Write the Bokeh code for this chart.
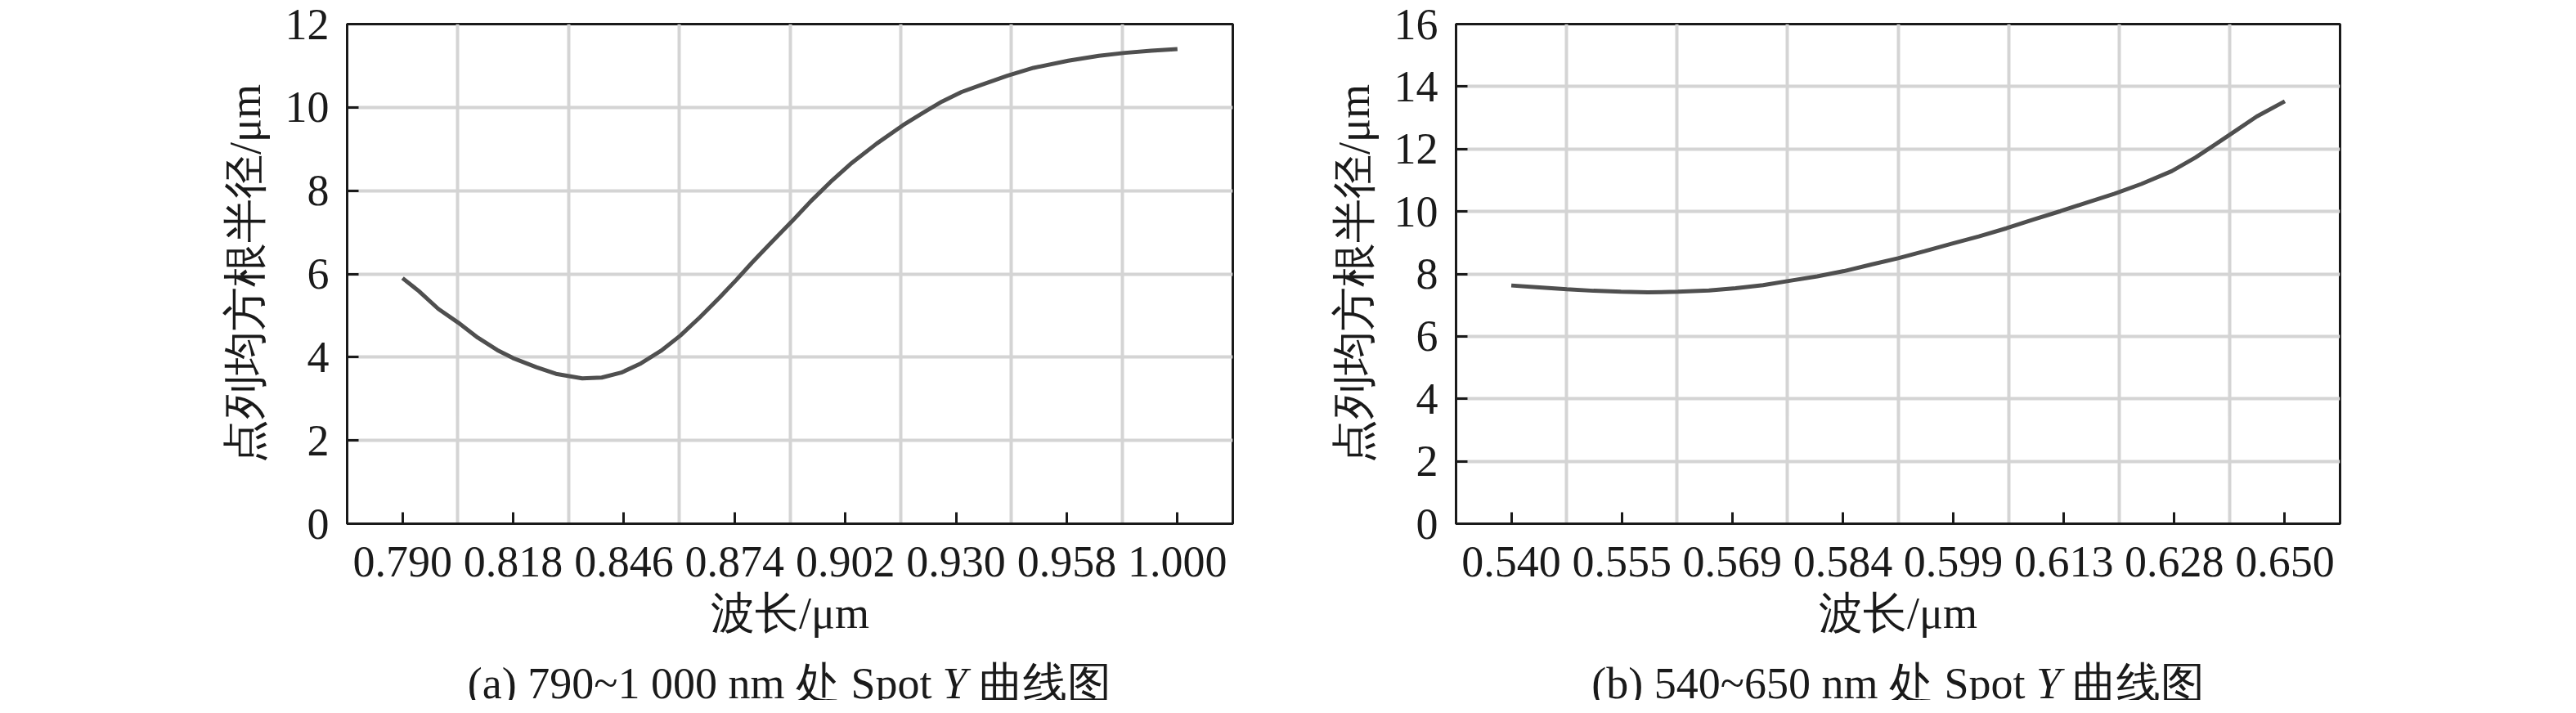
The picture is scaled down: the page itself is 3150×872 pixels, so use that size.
from bokeh.plotting import figure
from bokeh.layouts import row, column
from bokeh.models import Range1d, FixedTicker, Label
from bokeh.embed import file_html
from bokeh.resources import INLINE

# ---- data: panel (a) 790~1000 nm ----
wl_a = [0.7900, 0.7944, 0.7997, 0.8051, 0.8104, 0.8157, 0.8199, 0.8263, 0.8316,
        0.8387, 0.8440, 0.8493, 0.8546, 0.8600, 0.8653, 0.8706, 0.8759, 0.8805,
        0.8847, 0.8900, 0.8954, 0.9007, 0.9060, 0.9114, 0.9185, 0.9256, 0.9309,
        0.9362, 0.9415, 0.9468, 0.9539, 0.9610, 0.9704, 0.9787, 0.9858, 0.9929, 1.0000]
spot_a = [5.90, 5.59, 5.16, 4.83, 4.47, 4.17, 3.98, 3.76, 3.60,
          3.49, 3.51, 3.63, 3.85, 4.15, 4.52, 4.96, 5.43, 5.86,
          6.27, 6.76, 7.25, 7.75, 8.21, 8.64, 9.13, 9.57, 9.86,
          10.14, 10.37, 10.54, 10.76, 10.95, 11.12, 11.24, 11.31, 11.36, 11.40]
ticks_a = [0.79, 0.82, 0.85, 0.88, 0.91, 0.94, 0.97, 1.00]
tick_labels_a = ["0.790", "0.818", "0.846", "0.874", "0.902", "0.930", "0.958", "1.000"]
yticks_a = [0, 2, 4, 6, 8, 10, 12]

# ---- data: panel (b) 540~650 nm ----
wl_b = [0.5400, 0.5440, 0.5479, 0.5517, 0.5556, 0.5594, 0.5637, 0.5681, 0.5719,
        0.5758, 0.5796, 0.5835, 0.5873, 0.5912, 0.5950, 0.5988, 0.6027, 0.6065,
        0.6104, 0.6142, 0.6181, 0.6219, 0.6258, 0.6296, 0.6339, 0.6373, 0.6402,
        0.6431, 0.6460, 0.6500]
spot_b = [7.63, 7.57, 7.51, 7.46, 7.43, 7.41, 7.43, 7.47, 7.54,
          7.64, 7.78, 7.92, 8.09, 8.30, 8.50, 8.73, 8.97, 9.20,
          9.46, 9.74, 10.01, 10.29, 10.57, 10.88, 11.29, 11.73, 12.16,
          12.60, 13.04, 13.53]
ticks_b = [0.54, 0.555714, 0.571429, 0.587143, 0.602857, 0.618571, 0.634286, 0.65]
tick_labels_b = ["0.540", "0.555", "0.569", "0.584", "0.599", "0.613", "0.628", "0.650"]
yticks_b = [0, 2, 4, 6, 8, 10, 12, 14, 16]

x_title = "波长/μm"
y_title = "点列均方根半径/μm"
cap_a = ["(a) 790~1 000 nm 处 Spot", "Y", "曲线图"]
cap_b = ["(b) 540~650 nm 处 Spot", "Y", "曲线图"]

SERIF = "Liberation Serif"
FS = "54px"
INK = "#1a1a1a"


def make_panel(wl, spot, ticks, labels, yticks, fw, bl, br):
    step = ticks[1] - ticks[0]
    x0 = ticks[0] - step / 2
    x1 = ticks[-1] + step / 2
    p = figure(frame_width=fw, frame_height=611, output_backend="svg",
               toolbar_location=None,
               x_range=Range1d(x0, x1), y_range=Range1d(yticks[0], yticks[-1]),
               min_border_left=bl, min_border_right=br, min_border_top=29,
               min_border_bottom=145)
    p.background_fill_color = "white"
    p.border_fill_color = "white"
    p.outline_line_color = INK
    p.outline_line_width = 3
    p.outline_line_alpha = 1.0

    p.line(wl, spot, line_color="#4f4f4f", line_width=5)

    for ax in (p.xaxis[0], p.yaxis[0]):
        ax.axis_line_color = INK
        ax.axis_line_width = 3
        ax.major_tick_line_color = INK
        ax.major_tick_line_width = 3
        ax.major_tick_out = 0
        ax.major_tick_in = 14
        ax.minor_tick_line_color = None
        ax.major_label_text_font = SERIF
        ax.major_label_text_font_size = FS
        ax.major_label_text_color = INK
        ax.axis_label_text_font = SERIF
        ax.axis_label_text_font_size = FS
        ax.axis_label_text_font_style = "normal"
        ax.axis_label_text_color = INK

    p.xaxis[0].ticker = FixedTicker(ticks=ticks)
    p.xaxis[0].major_label_overrides = {t: s for t, s in zip(ticks, labels)}
    p.xaxis[0].major_label_standoff = 28
    p.xaxis[0].axis_label = x_title
    p.xaxis[0].axis_label_standoff = 12

    p.yaxis[0].ticker = FixedTicker(ticks=yticks)
    p.yaxis[0].major_label_standoff = 22
    p.yaxis[0].axis_label = y_title
    p.yaxis[0].axis_label_standoff = 16

    mids = [t + step / 2 for t in ticks[:-1]]
    p.xgrid[0].ticker = FixedTicker(ticks=mids)
    p.ygrid[0].ticker = FixedTicker(ticks=yticks[1:-1])
    for g in (p.xgrid[0], p.ygrid[0]):
        g.grid_line_color = "#d4d4d4"
        g.grid_line_width = 4
    return p


def make_caption(width, cap, xs):
    c = figure(width=width, height=71, output_backend="svg", toolbar_location=None,
               x_range=Range1d(0, width), y_range=Range1d(0, 71),
               min_border=0, min_border_left=0, min_border_right=0,
               min_border_top=0, min_border_bottom=0)
    c.axis.visible = False
    c.grid.visible = False
    c.outline_line_color = None
    c.background_fill_color = "white"
    c.border_fill_color = "white"
    aligns = ["right", "left", "left"]
    styles = ["normal", "italic", "normal"]
    for t, x, a, s in zip(cap, xs, aligns, styles):
        c.add_layout(Label(x=x, y=21, text=t, text_align=a, text_baseline="alphabetic",
                           text_font=SERIF, text_font_size=FS, text_font_style=s,
                           text_color=INK))
    return c


p1 = make_panel(wl_a, spot_a, ticks_a, tick_labels_a, yticks_a, 1083, 424, 85)
p2 = make_panel(wl_b, spot_b, ticks_b, tick_labels_b, yticks_b, 1081, 188, 250)
c1 = make_caption(1592, cap_a, (1139, 1152, 1196))
c2 = make_caption(1519, cap_b, (884, 897.5, 941))

layout = column(row(p1, p2), row(c1, c2))
open("out.html", "w").write(file_html(layout, INLINE))
